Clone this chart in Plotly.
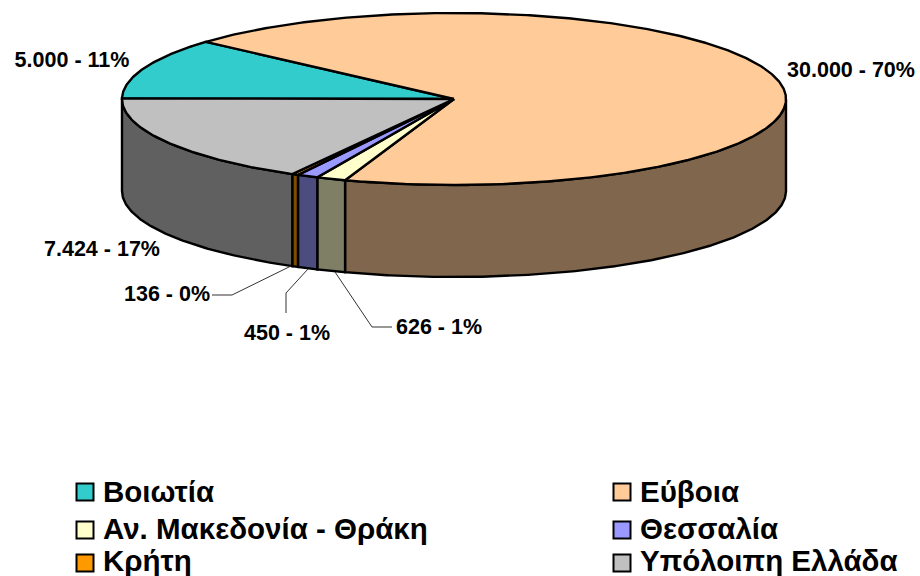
import numpy as np
import plotly.graph_objects as go

categories = ["Βοιωτία", "Εύβοια", "Αν. Μακεδονία - Θράκη", "Θεσσαλία", "Κρήτη", "Υπόλοιπη Ελλάδα"]
values = [5000, 30000, 626, 450, 136, 7424]
data_labels = ["5.000 - 11%", "30.000 - 70%", "626 - 1%", "450 - 1%", "136 - 0%", "7.424 - 17%"]
legend_order = [0, 1, 2, 3, 4, 5]

colors = ["#33CCCC", "#FFCC99", "#FFFFCC", "#9999FF", "#FF9900", "#C0C0C0"]

# geometry of the tilted pie, in page pixels
CX, CY, RX, RY, DEPTH = 454, 99, 332, 86, 92
START = 179.6
label_xy = [(72, 62), (851, 72), (439, 329), (287, 335), (167, 296), (102, 251)]
leaders = [
    None, None,
    ([335, 372, 392], [272, 327, 327]),
    ([308, 286, 286], [269, 293, 313]),
    ([291, 232, 212], [266, 295, 295]),
    None,
]
legend_xy = [(85, 492), (622, 492), (85, 530), (622, 530), (85, 563), (622, 563)]
legend_text_y = [495, 495, 532, 532, 564, 564]
FONT = "Liberation Sans, Arial, sans-serif"


def shade(hex_color):
    r, g, b = [int(hex_color[i:i + 2], 16) // 2 for i in (1, 3, 5)]
    return f"rgb({r},{g},{b})"


def rim(t1, t2):
    t = np.radians(np.linspace(t1, t2, max(2, int(abs(t2 - t1) * 2) + 1)))
    return CX + RX * np.cos(t), CY - RY * np.sin(t)


total = sum(values)
ends = START - np.cumsum(values) / total * 360
starts = np.concatenate([[START], ends[:-1]])

fig = go.Figure()

# side walls: only the part of each slice facing the viewer (below the horizon)
for i in range(len(values)):
    a2 = min(starts[i], 0)
    b2 = max(ends[i], -180)
    if a2 <= b2:
        continue
    x, y = rim(a2, b2)
    fig.add_trace(go.Scatter(
        x=np.concatenate([x, x[::-1], x[:1]]),
        y=np.concatenate([y, y[::-1] + DEPTH, y[:1]]),
        mode="lines", fill="toself", fillcolor=shade(colors[i]),
        line=dict(color="black", width=2.4), hoverinfo="skip", showlegend=False,
    ))

# top faces
for i in range(len(values)):
    x, y = rim(starts[i], ends[i])
    fig.add_trace(go.Scatter(
        x=np.concatenate([[CX], x, [CX]]),
        y=np.concatenate([[CY], y, [CY]]),
        mode="lines", fill="toself", fillcolor=colors[i],
        line=dict(color="black", width=2.4), name=categories[i], showlegend=False,
    ))

# leader lines
for seg in leaders:
    if seg:
        fig.add_trace(go.Scatter(x=seg[0], y=seg[1], mode="lines",
                                 line=dict(color="#333333", width=1),
                                 hoverinfo="skip", showlegend=False))

# data labels
fig.add_trace(go.Scatter(
    x=[p[0] for p in label_xy], y=[p[1] for p in label_xy],
    mode="text", text=data_labels, textposition="middle center",
    textfont=dict(family=FONT, size=21.5, color="black", weight="bold"),
    hoverinfo="skip", showlegend=False,
))

# legend
for i in legend_order:
    lx, ly = legend_xy[i]
    fig.add_trace(go.Scatter(
        x=[lx], y=[ly], mode="markers",
        marker=dict(symbol="square", size=17, color=colors[i],
                    line=dict(color="black", width=2)),
        hoverinfo="skip", showlegend=False,
    ))
    fig.add_trace(go.Scatter(
        x=[lx + 18], y=[legend_text_y[i]], mode="text", text=[categories[i]],
        textposition="middle right",
        textfont=dict(family=FONT, size=29.5, color="black", weight="bold"),
        hoverinfo="skip", showlegend=False, cliponaxis=False,
    ))

fig.update_layout(
    width=920, height=576, margin=dict(l=0, r=0, t=0, b=0),
    paper_bgcolor="white", plot_bgcolor="white", showlegend=False,
    xaxis=dict(range=[0, 920], visible=False, fixedrange=True),
    yaxis=dict(range=[576, 0], visible=False, fixedrange=True),
)
fig.write_html(
    "out.html",
    config={"displayModeBar": False},
    post_script="document.body.style.margin='0';document.documentElement.style.overflow='hidden';",
)
